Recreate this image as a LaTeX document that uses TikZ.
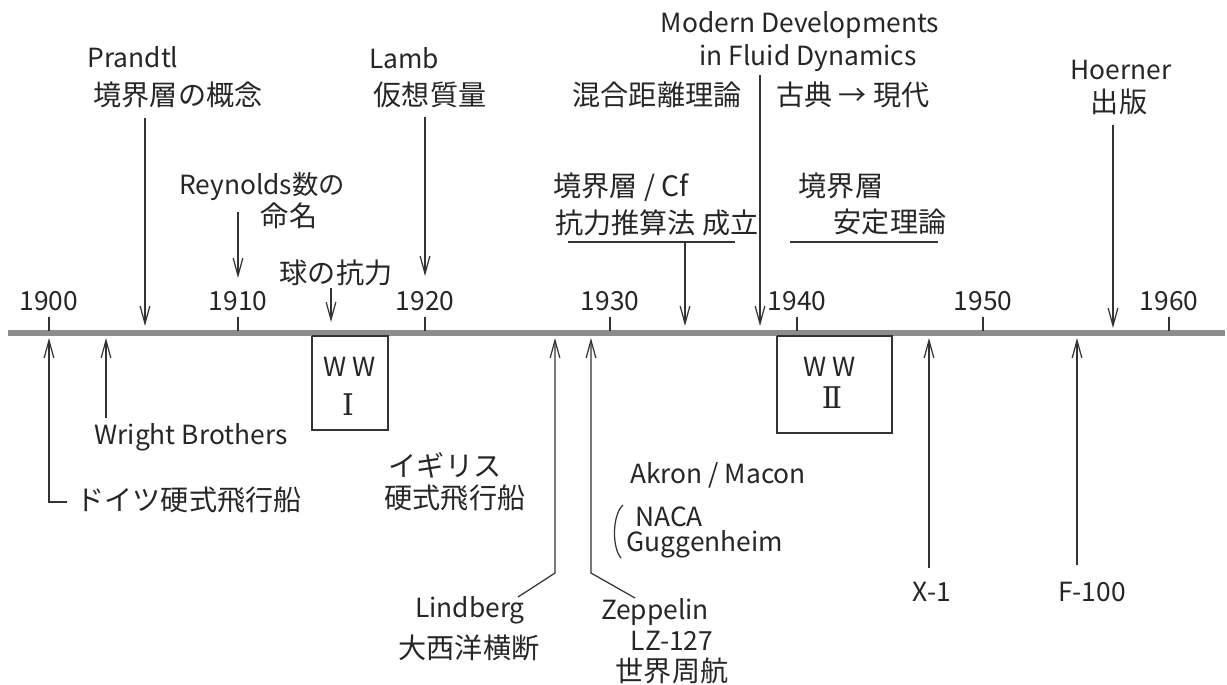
\documentclass[tikz,border=0pt]{standalone}
\usepackage{fontspec}
\setmainfont{Noto Sans CJK JP}
\newfontfamily\romanum{DejaVu Serif}
\usetikzlibrary{arrows.meta}
\tikzset{
  lat/.style={font=\fontsize{15}{17}\selectfont, inner sep=0pt, text=black!85},
  jp/.style={font=\fontsize{16}{18}\selectfont, inner sep=0pt, text=black!85},
  yr/.style={font=\fontsize{15}{17}\selectfont, inner sep=0pt, text=black!85},
  rn/.style={font=\romanum\fontsize{17}{19}\selectfont, inner sep=0pt, text=black!85},
  conn/.style={draw=black!80, line width=0.7pt},
  arr/.style={conn, -{Straight Barb[length=10pt,width=5.5pt]}},
  axisline/.style={draw=black!45, line width=3pt},
  tickmark/.style={draw=black!80, line width=0.7pt},
  warbox/.style={draw=black!80, line width=0.7pt}
}
\begin{document}
\begin{tikzpicture}[x=0.02cm, y=-0.02cm]
\useasboundingbox (0,0) rectangle (1227,684);
% axis
\coordinate (axL) at (8,333);
\coordinate (axR) at (1225,333);
\draw[axisline] (axL) -- (axR);
% ticks and years
\foreach \yr/\xx in {1900/49,1910/238,1920/425,1930/610,1940/797,1950/983,1960/1169}{
  \coordinate (t\yr) at (\xx,331);
  \coordinate (tt\yr) at (\xx,317);
  \draw[tickmark] (tt\yr) -- (t\yr);
  \node[yr] (y\yr) at (\xx,301) {\yr};
}
% ---------- above axis ----------
% Prandtl
\node[lat] (prandtl) at (133,57) {Prandtl};
\node[jp] (prandtl2) at (178,95) {境界層の概念};
\coordinate (prS) at (145,118);
\coordinate (prE) at (145,326);
\draw[arr] (prS) -- (prE);
% Reynolds
\node[lat] (rey) at (262,186) {Reynolds数の};
\node[jp] (rey2) at (289,216) {命名};
\coordinate (reS) at (238,212);
\coordinate (reE) at (238,278);
\draw[arr] (reS) -- (reE);
% sphere drag
\node[jp] (sph) at (336,273) {球の抗力};
\coordinate (spS) at (331,288);
\coordinate (spE) at (331,322);
\draw[arr] (spS) -- (spE);
% Lamb
\node[lat] (lamb) at (404,58) {Lamb};
\node[jp] (lamb2) at (430,95) {仮想質量};
\coordinate (laS) at (425,117);
\coordinate (laE) at (425,276);
\draw[arr] (laS) -- (laE);
% mixing length
\node[jp] (mix) at (657,95) {混合距離理論};
% Modern Developments
\node[lat] (mod1) at (800,25) {Modern Developments};
\node[lat] (mod2) at (808,58) {in Fluid Dynamics};
\node[jp] (mod3) at (853,95) {古典 → 現代};
\coordinate (moS) at (760,75);
\coordinate (moE) at (760,326);
\draw[arr] (moS) -- (moE);
% boundary layer / Cf
\node[jp] (cf1) at (621,187) {境界層 / Cf};
\node[jp] (cf2) at (657,223) {抗力推算法 成立};
\coordinate (ulA1) at (568,242);
\coordinate (ulA2) at (735,242);
\draw[conn] (ulA1) -- (ulA2);
\coordinate (cfS) at (685,243);
\coordinate (cfE) at (685,326);
\draw[arr] (cfS) -- (cfE);
% stability
\node[jp] (st1) at (841,186) {境界層};
\node[jp] (st2) at (890,222) {安定理論};
\coordinate (ulB1) at (790,242);
\coordinate (ulB2) at (938,242);
\draw[conn] (ulB1) -- (ulB2);
% Hoerner
\node[lat] (hoe) at (1121,70) {Hoerner};
\node[jp] (hoe2) at (1119,102) {出版};
\coordinate (hoS) at (1113,125);
\coordinate (hoE) at (1113,328);
\draw[arr] (hoS) -- (hoE);
% ---------- below axis ----------
% German rigid airship
\node[jp] (ger) at (189,500) {ドイツ硬式飛行船};
\coordinate (geA) at (67,502);
\coordinate (geB) at (49,502);
\coordinate (geE) at (49,338);
\draw[arr] (geA) -- (geB) -- (geE);
% Wright Brothers
\node[lat] (wright) at (191,437) {Wright Brothers};
\coordinate (wrS) at (106,418);
\coordinate (wrE) at (106,338);
\draw[arr] (wrS) -- (wrE);
% WWI
\coordinate (w1a) at (312,336);
\coordinate (w1b) at (388,430);
\draw[warbox] (w1a) |- (w1b) |- (w1a);
\node[lat] (ww1) at (350,367) {W W};
\node[rn] (ww1n) at (348,405) {Ⅰ};
% British
\node[jp] (brit1) at (445,465) {イギリス};
\node[jp] (brit2) at (455,498) {硬式飛行船};
% Lindberg
\node[lat] (lind) at (470,610) {Lindberg};
\node[jp] (lind2) at (469,648) {大西洋横断};
\coordinate (liA) at (518,597);
\coordinate (liB) at (555,573);
\coordinate (liE) at (555,338);
\draw[arr] (liA) -- (liB) -- (liE);
% Zeppelin
\node[lat] (zep) at (655,612) {Zeppelin};
\node[lat] (zep2) at (672,641) {LZ-127};
\node[jp] (zep3) at (672,671) {世界周航};
\coordinate (zeA) at (635,598);
\coordinate (zeB) at (591,573);
\coordinate (zeE) at (591,338);
\draw[arr] (zeA) -- (zeB) -- (zeE);
% Akron/Macon
\node[lat] (akron) at (718,475) {Akron / Macon};
\node[lat] (naca) at (669,517) {NACA};
\node[lat] (gugg) at (705,544) {Guggenheim};
\coordinate (brA) at (623,505);
\coordinate (brB) at (621,558);
\draw[conn] (brA) .. controls (612,515) and (612,548) .. (brB);
% WWII
\coordinate (w2a) at (777,336);
\coordinate (w2b) at (892,433);
\draw[warbox] (w2a) |- (w2b) |- (w2a);
\node[lat] (ww2) at (830,367) {W W};
\node[rn] (ww2n) at (832,398) {Ⅱ};
% X-1
\node[lat] (x1) at (932,592) {X-1};
\coordinate (x1S) at (929,568);
\coordinate (x1E) at (929,338);
\draw[arr] (x1S) -- (x1E);
% F-100
\node[lat] (f100) at (1092,592) {F-100};
\coordinate (f1S) at (1077,565);
\coordinate (f1E) at (1077,338);
\draw[arr] (f1S) -- (f1E);
\end{tikzpicture}
\end{document}
